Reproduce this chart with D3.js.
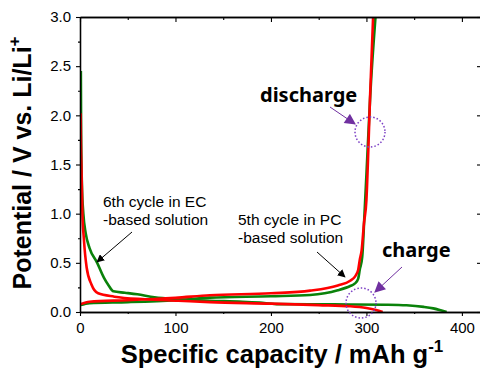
<!DOCTYPE html>
<html>
<head>
<meta charset="utf-8">
<script src="https://cdn.jsdelivr.net/npm/d3@7"></script>
<style>
  html, body { margin: 0; padding: 0; background: #fff; }
  svg { display: block; font-family: "Liberation Sans", Arial, sans-serif; }
</style>
</head>
<body>
<svg width="480" height="371"></svg>
<script>
// 6th cycle in EC-based solution (green)
var ecChargeCap = [0.9, 1.2, 2, 3.5, 6, 10, 18, 25, 30, 35, 47, 60, 78, 102, 136, 170, 188, 206, 250, 283, 320, 342, 360, 370, 384];
var ecChargeV   = [2.45, 1.8, 1.3, 1.0, 0.8, 0.65, 0.5, 0.35, 0.27, 0.21, 0.196, 0.18, 0.15, 0.13, 0.115, 0.105, 0.095, 0.08, 0.078, 0.077, 0.074, 0.068, 0.052, 0.037, 0.0];
var ecDischargeCap = [0.5, 10, 50, 100, 136, 200, 241, 270, 283, 288, 291.4, 293, 295.6, 298, 301, 304, 309.5];
var ecDischargeV   = [0.07, 0.09, 0.1, 0.12, 0.146, 0.16, 0.173, 0.22, 0.264, 0.29, 0.34, 0.43, 0.56, 1.0, 1.6, 2.2, 3.0];

// 5th cycle in PC-based solution (red)
var pcChargeCap = [0.7, 1, 1.5, 2.5, 4, 7, 12, 19, 36, 68, 103, 136, 200, 250, 283, 300, 310, 317];
var pcChargeV   = [2.02, 1.7, 1.48, 1.0, 0.75, 0.45, 0.28, 0.19, 0.156, 0.13, 0.115, 0.1, 0.085, 0.07, 0.058, 0.04, 0.02, 0.0];
var pcDischargeCap = [0.5, 10, 50, 100, 136, 200, 241, 270, 283, 288, 291.4, 293, 295, 297.4, 300, 302, 303.7, 307];
var pcDischargeV   = [0.08, 0.105, 0.12, 0.145, 0.17, 0.19, 0.217, 0.27, 0.318, 0.36, 0.43, 0.53, 0.63, 0.9, 1.14, 1.65, 2.16, 3.0];

var xTicks = [0, 100, 200, 300, 400];
var xMinor = [50, 150, 250, 350];
var yTicks = [0, 0.5, 1.0, 1.5, 2.0, 2.5, 3.0];
var yMinor = [0.25, 0.75, 1.25, 1.75, 2.25, 2.75];

var svg = d3.select('svg');
var x = d3.scaleLinear().domain([0, 420]).range([80, 481]);
var y = d3.scaleLinear().domain([0, 3]).range([312, 17]);

var defs = svg.append('defs');
defs.append('marker')
    .attr('id', 'arrBlack')
    .attr('viewBox', '0 0 10 10')
    .attr('refX', 9).attr('refY', 5)
    .attr('markerWidth', 8).attr('markerHeight', 8)
    .attr('markerUnits', 'userSpaceOnUse')
    .attr('orient', 'auto')
    .append('path').attr('d', 'M0,0 L10,5 L0,10 z').attr('fill', '#000');
defs.append('marker')
    .attr('id', 'arrPurple')
    .attr('viewBox', '0 0 10 10')
    .attr('refX', 9).attr('refY', 5)
    .attr('markerWidth', 12).attr('markerHeight', 11)
    .attr('markerUnits', 'userSpaceOnUse')
    .attr('orient', 'auto')
    .append('path').attr('d', 'M0,0 L10,5 L0,10 z').attr('fill', '#7030a0');

defs.append('clipPath').attr('id', 'clip').append('rect')
    .attr('x', 80).attr('y', 17).attr('width', 401).attr('height', 295);
var plot = svg.append('g').attr('clip-path', 'url(#clip)');

var line = d3.line()
    .x(function(d) { return x(d[0]); })
    .y(function(d) { return y(d[1]); })
    .curve(d3.curveMonotoneX);

function draw(caps, vals, color) {
    plot.append('path')
        .datum(d3.zip(caps, vals))
        .attr('d', line)
        .attr('fill', 'none')
        .attr('stroke', color)
        .attr('stroke-width', 2.6)
        .attr('stroke-linejoin', 'round');
}
draw(ecChargeCap, ecChargeV, '#0a820a');
draw(ecDischargeCap, ecDischargeV, '#0a820a');
draw(pcChargeCap, pcChargeV, '#ff0000');
draw(pcDischargeCap, pcDischargeV, '#ff0000');

// axes
var axes = svg.append('g');
function styleAxis(g) {
    g.select('.domain').attr('stroke', '#000').attr('stroke-width', 1.3);
    g.selectAll('.tick line').attr('stroke', '#000').attr('stroke-width', 1.1);
    g.selectAll('.tick text').attr('font-size', 15).attr('fill', '#000')
        .attr('font-family', '"Liberation Sans", Arial, sans-serif');
}
axes.append('g').attr('transform', 'translate(0,312)')
    .call(d3.axisBottom(x).tickValues(xTicks).tickSize(4).tickSizeOuter(0).tickPadding(6).tickFormat(d3.format('d')))
    .call(styleAxis);
axes.append('g').attr('transform', 'translate(0,312)')
    .call(d3.axisBottom(x).tickValues(xMinor).tickSize(2).tickSizeOuter(0).tickFormat(''))
    .call(styleAxis);
axes.append('g').attr('transform', 'translate(0,17)')
    .call(d3.axisBottom(x).tickValues(xTicks).tickSize(5).tickSizeOuter(0).tickFormat(''))
    .call(styleAxis);
axes.append('g').attr('transform', 'translate(0,17)')
    .call(d3.axisBottom(x).tickValues(xMinor).tickSize(3).tickSizeOuter(0).tickFormat(''))
    .call(styleAxis);
axes.append('g').attr('transform', 'translate(80,0)')
    .call(d3.axisLeft(y).tickValues(yTicks).tickSize(4).tickSizeOuter(0).tickPadding(5).tickFormat(d3.format('.1f')))
    .call(styleAxis);
axes.append('g').attr('transform', 'translate(80,0)')
    .call(d3.axisLeft(y).tickValues(yMinor).tickSize(2).tickSizeOuter(0).tickFormat(''))
    .call(styleAxis);
axes.append('g').attr('transform', 'translate(481,0)')
    .call(d3.axisLeft(y).tickValues(yTicks).tickSize(4).tickSizeOuter(0).tickFormat(''))
    .call(styleAxis);

// axis titles
svg.append('text')
    .attr('x', 282).attr('y', 363)
    .attr('text-anchor', 'middle')
    .attr('font-size', 25.5).attr('font-weight', 'bold')
    .text('Specific capacity / mAh g')
    .append('tspan').attr('font-size', 17).attr('dy', -11).text('-1');

svg.append('text')
    .attr('transform', 'translate(31,163) rotate(-90)')
    .attr('text-anchor', 'middle')
    .attr('font-size', 25).attr('font-weight', 'bold')
    .text('Potential / V vs. Li/Li')
    .append('tspan').attr('font-size', 17).attr('dy', -11).text('+');

// annotations
var notes = svg.append('g').attr('font-size', 15.5).attr('fill', '#000');
notes.append('text').attr('x', 103).attr('y', 207).text('6th cycle in EC');
notes.append('text').attr('x', 103).attr('y', 225).text('-based solution');
notes.append('text').attr('x', 238).attr('y', 225).text('5th cycle in PC');
notes.append('text').attr('x', 238).attr('y', 243).text('-based solution');

svg.append('line').attr('x1', 132).attr('y1', 232).attr('x2', 97).attr('y2', 262)
    .attr('stroke', '#000').attr('stroke-width', 1).attr('marker-end', 'url(#arrBlack)');
svg.append('line').attr('x1', 317).attr('y1', 252).attr('x2', 345).attr('y2', 277)
    .attr('stroke', '#000').attr('stroke-width', 1).attr('marker-end', 'url(#arrBlack)');

var big = svg.append('g').attr('font-family', '"Noto Sans", sans-serif')
    .attr('font-weight', 'bold').attr('font-size', 20).attr('fill', '#000');
big.append('text').attr('x', 260).attr('y', 102).text('discharge');
big.append('text').attr('x', 382).attr('y', 257).text('charge');

svg.append('line').attr('x1', 330).attr('y1', 107).attr('x2', 355).attr('y2', 124)
    .attr('stroke', '#7030a0').attr('stroke-width', 1).attr('marker-end', 'url(#arrPurple)');
svg.append('line').attr('x1', 402).attr('y1', 267).attr('x2', 375).attr('y2', 292)
    .attr('stroke', '#7030a0').attr('stroke-width', 1).attr('marker-end', 'url(#arrPurple)');

svg.append('circle').attr('cx', 370).attr('cy', 132).attr('r', 15)
    .attr('fill', 'none').attr('stroke', '#7b3fc4').attr('stroke-width', 1.5).attr('stroke-dasharray', '1.5,2');
svg.append('circle').attr('cx', 361).attr('cy', 303).attr('r', 15)
    .attr('fill', 'none').attr('stroke', '#7b3fc4').attr('stroke-width', 1.5).attr('stroke-dasharray', '1.5,2');
</script>
</body>
</html>
